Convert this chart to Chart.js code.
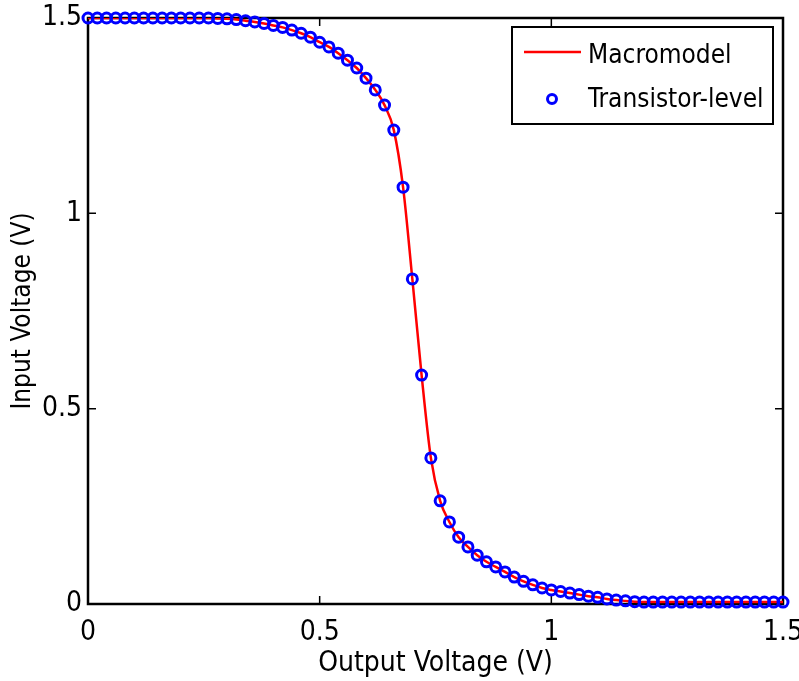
<!DOCTYPE html>
<html>
<head>
<meta charset="utf-8">
<script src="https://cdn.jsdelivr.net/npm/chart.js@4/dist/chart.umd.min.js"></script>
<style>
  html,body{margin:0;padding:0;background:#fff;}
  #wrap{width:799px;height:681px;}
</style>
</head>
<body>
<div id="wrap"><canvas id="vtc" width="799" height="681"></canvas></div>
<script>
const outputV=[0,0.02,0.04,0.06,0.08,0.10,0.12,0.14,0.16,0.18,
  0.20,0.22,0.24,0.26,0.28,0.30,0.32,0.34,0.36,0.38,
  0.40,0.42,0.44,0.46,0.48,0.50,0.52,0.54,0.56,0.58,
  0.60,0.62,0.64,0.66,0.68,0.70,0.72,0.74,0.76,0.78,
  0.80,0.82,0.84,0.86,0.88,0.90,0.92,0.94,0.96,0.98,
  1.00,1.02,1.04,1.06,1.08,1.10,1.12,1.14,1.16,1.18,
  1.20,1.22,1.24,1.26,1.28,1.30,1.32,1.34,1.36,1.38,
  1.40,1.42,1.44,1.46,1.48,1.50];
// input voltage (V), transistor-level points
const transistorV=[1.5,1.5,1.5,1.5,1.5,1.5,1.5,1.5,1.5,1.5,
  1.5,1.5,1.5,1.5,1.499,1.498,1.496,1.493,1.49,1.486,
  1.481,1.476,1.469,1.461,1.451,1.438,1.426,1.41,1.392,1.372,
  1.346,1.316,1.277,1.213,1.067,0.832,0.586,0.374,0.264,0.21,
  0.171,0.146,0.125,0.108,0.095,0.082,0.069,0.058,0.049,0.041,
  0.036,0.032,0.028,0.024,0.02,0.017,0.013,0.01,0.008,0.006,
  0.005,0.005,0.005,0.005,0.005,0.005,0.005,0.005,0.005,0.005,
  0.005,0.005,0.005,0.005,0.005,0.005];
// macromodel curve lies on the same readings
const macroV=transistorV;
const xTicks=[0,0.5,1,1.5], yTicks=[0,0.5,1,1.5];
const seriesNames=['Macromodel','Transistor-level'];

const FONT="'Liberation Sans Narrow','DejaVu Sans Condensed','Liberation Sans',Arial,sans-serif";
const pts=(xs,ys)=>xs.map((x,i)=>({x,y:ys[i]}));
const fmtTick=v=>String(+(+v).toFixed(2));

// frame box + inward ticks, drawn under the data like matlab
const frame={
  id:'frame',
  beforeDatasetsDraw(chart){
    const {ctx,chartArea:a,scales:{x,y}}=chart;
    ctx.save();
    ctx.strokeStyle='#000'; ctx.lineWidth=2.5;
    ctx.strokeRect(a.left,a.top,a.right-a.left,a.bottom-a.top);
    ctx.lineWidth=1.5;
    xTicks.slice(1,-1).forEach(v=>{
      const px=x.getPixelForValue(v);
      ctx.beginPath();
      ctx.moveTo(px,a.bottom); ctx.lineTo(px,a.bottom-8);
      ctx.moveTo(px,a.top); ctx.lineTo(px,a.top+8);
      ctx.stroke();
    });
    yTicks.slice(1,-1).forEach(v=>{
      const py=y.getPixelForValue(v);
      ctx.beginPath();
      ctx.moveTo(a.left,py); ctx.lineTo(a.left+8,py);
      ctx.moveTo(a.right,py); ctx.lineTo(a.right-8,py);
      ctx.stroke();
    });
    ctx.restore();
  }
};

const legendBox={
  id:'legendBox',
  afterDraw(chart){
    const ctx=chart.ctx;
    const bx=512,by=27,bw=261,bh=97;
    ctx.save();
    ctx.fillStyle='#fff'; ctx.fillRect(bx,by,bw,bh);
    ctx.strokeStyle='#000'; ctx.lineWidth=2;
    ctx.strokeRect(bx,by,bw,bh);
    ctx.strokeStyle='#ff0000'; ctx.lineWidth=2.5;
    ctx.beginPath(); ctx.moveTo(524,52); ctx.lineTo(581,52); ctx.stroke();
    ctx.strokeStyle='#0000ff'; ctx.lineWidth=3;
    ctx.beginPath(); ctx.arc(552,99,4.5,0,Math.PI*2); ctx.stroke();
    ctx.fillStyle='#000'; ctx.font='26px '+FONT;
    ctx.textAlign='left'; ctx.textBaseline='middle';
    ctx.fillText(seriesNames[0],588,56);
    ctx.fillText(seriesNames[1],588,100);
    ctx.restore();
  }
};

new Chart(document.getElementById('vtc'),{
  type:'scatter',
  data:{datasets:[
    {label:seriesNames[1],data:pts(outputV,transistorV),
     showLine:false,pointStyle:'circle',pointRadius:5,pointHoverRadius:5,
     pointBorderColor:'#0000ff',pointBackgroundColor:'rgba(0,0,0,0)',
     pointBorderWidth:3,clip:false,order:0},
    {label:seriesNames[0],data:pts(outputV,macroV),
     showLine:true,borderColor:'#ff0000',borderWidth:2.5,pointRadius:0,
     cubicInterpolationMode:'monotone',order:1}
  ]},
  options:{
    responsive:false,animation:false,devicePixelRatio:1,
    layout:{padding:{top:18,right:16,left:0,bottom:0}},
    plugins:{legend:{display:false},tooltip:{enabled:false}},
    scales:{
      x:{type:'linear',min:0,max:1.5,
        afterBuildTicks:s=>{s.ticks=xTicks.map(v=>({value:v}));},
        ticks:{callback:fmtTick,color:'#000',font:{family:FONT,size:28},padding:12,maxRotation:0},
        grid:{display:false,drawTicks:false},border:{display:false},
        title:{display:true,text:'Output Voltage (V)',color:'#000',
          font:{family:FONT,size:28},padding:{top:0,bottom:0}},
        afterFit:s=>{s.height=77;s.paddingLeft=0;s.paddingRight=0;}},
      y:{type:'linear',min:0,max:1.5,
        afterBuildTicks:s=>{s.ticks=yTicks.map(v=>({value:v}));},
        ticks:{callback:fmtTick,color:'#000',font:{family:FONT,size:28},padding:6},
        grid:{display:false,drawTicks:false},border:{display:false},
        title:{display:true,text:'Input Voltage (V)',color:'#000',
          font:{family:FONT,size:26},padding:{top:8,bottom:0}},
        afterFit:s=>{s.width=88;s.paddingTop=0;s.paddingBottom=0;}}
    }
  },
  plugins:[frame,legendBox]
});
</script>
</body>
</html>
